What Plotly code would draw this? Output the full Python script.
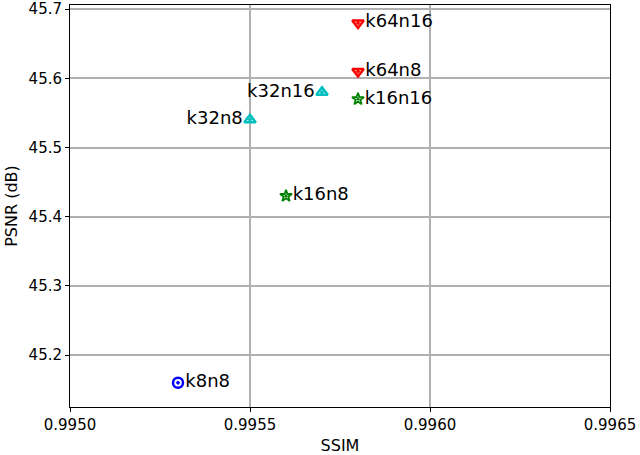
import plotly.graph_objects as go

labels = ["k8n8", "k16n8", "k32n8", "k32n16", "k16n16", "k64n8", "k64n16"]
ssim = [0.9953, 0.9956, 0.9955, 0.9957, 0.9958, 0.9958, 0.9958]
psnr = [45.16, 45.43, 45.54, 45.58, 45.57, 45.61, 45.68]
colors = ["#0000ff", "#008000", "#00bfbf", "#00bfbf", "#008000", "#ff0000", "#ff0000"]
symbols = ["circle-open-dot", "star-open-dot", "triangle-up-open-dot", "triangle-up-open-dot",
           "star-open-dot", "triangle-down-open-dot", "triangle-down-open-dot"]
text_pos = ["middle right", "middle right", "middle left", "middle left",
            "middle right", "middle right", "middle right"]

fig = go.Figure()
for lb, x, y, c, s, tp in zip(labels, ssim, psnr, colors, symbols, text_pos):
    star = s.startswith("star")
    fig.add_trace(go.Scatter(
        x=[x], y=[y], mode="markers+text", text=[lb], textposition=tp,
        marker=dict(symbol=s, size=9 if star else 10, color=c,
                    line=dict(color=c, width=1.8 if star else 2.5)),
        textfont=dict(size=18, color="black"),
        showlegend=False,
    ))

axis_common = dict(
    showline=True, linecolor="black", linewidth=1, mirror=True,
    ticks="outside", ticklen=4, tickcolor="black",
    showgrid=True, gridcolor="#b0b0b0", gridwidth=1.5,
    zeroline=False, tickfont=dict(size=15, color="black"),
    automargin=False,
)
fig.update_xaxes(range=[0.9950, 0.9965], dtick=0.0005, tickformat=".4f",
                 title=dict(text="SSIM", font=dict(size=16, color="black"), standoff=10),
                 **axis_common)
fig.update_yaxes(range=[45.125, 45.706], dtick=0.1, tickformat=".1f",
                 title=dict(text="PSNR (dB)", font=dict(size=16, color="black"), standoff=6),
                 **axis_common)
fig.update_layout(
    width=640, height=455,
    margin=dict(l=70, r=30, t=5, b=48),
    paper_bgcolor="white", plot_bgcolor="white",
    font=dict(family="DejaVu Sans", color="black"),
)
fig.write_html("out.html", config={"displayModeBar": False},
               post_script="document.body.style.margin='0';")
